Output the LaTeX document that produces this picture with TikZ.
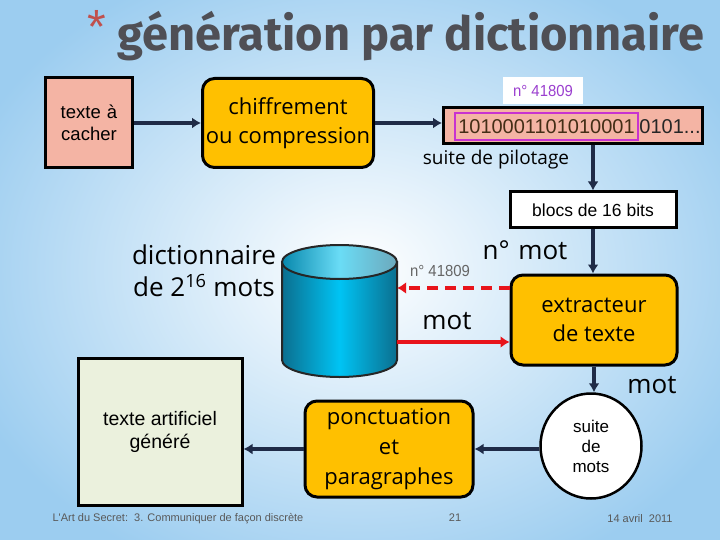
\documentclass[tikz,border=0pt]{standalone}
\usepackage{fontspec}
\setmainfont{Liberation Sans}
\newfontfamily\titlefont{Fira Sans}
\newfontfamily\tahfont{Open Sans}
\newfontfamily\arialfont{Liberation Sans}
\usetikzlibrary{arrows.meta,shapes.geometric,calc}
\definecolor{bgblue}{HTML}{9CCDF0}
\definecolor{pinkbox}{HTML}{F4B4A4}
\definecolor{orangebox}{HTML}{FFC000}
\definecolor{greenbox}{HTML}{EBF1DD}
\definecolor{navy}{HTML}{1F2B47}
\definecolor{redarr}{HTML}{E8141B}
\definecolor{purpletxt}{HTML}{9B3FCF}
\definecolor{magbox}{HTML}{C832D0}
\definecolor{titlegray}{HTML}{4F4F55}
\definecolor{starred}{HTML}{C0504D}
\definecolor{cyldark}{HTML}{0B6F8F}
\definecolor{cylmid}{HTML}{00C4F4}
\definecolor{cyltop}{HTML}{6ADCF6}
\tikzset{
  plainbox/.style={draw=black,line width=3pt,rectangle,inner sep=0pt,align=center},
  roundbox/.style={plainbox,rounded corners=12pt,fill=orangebox},
  flowarrow/.style={draw=navy,line width=4pt,-{Latex[length=9pt,width=11pt]}},
  redarrow/.style={draw=redarr,line width=4pt,-{Latex[length=9pt,width=12pt]}},
  tah/.style={font=\tahfont\fontsize{#1}{#1}\selectfont,inner sep=0pt},
  ari/.style={font=\arialfont\fontsize{#1}{#1}\selectfont,inner sep=0pt},
}
\begin{document}
\begin{tikzpicture}[x=1pt,y=-1pt]
\useasboundingbox (0,0) rectangle (720,540);
\shade[inner color=white,outer color=bgblue] (-60,-60) rectangle (780,600);
% title
\node[font=\titlefont\bfseries\fontsize{47}{47}\selectfont,text=titlegray,inner sep=0pt,anchor=base] (title) at (411,51) {génération par dictionnaire};
\node[font=\arialfont\fontsize{48}{48}\selectfont,text=starred,inner sep=0pt] (star) at (97,27) {*};
% top row
\node[plainbox,fill=pinkbox,minimum width=87pt,minimum height=90pt,ari={18.5},text width=82pt,align=center] (cacher) at (89,123) {texte à\\[4pt]cacher};
\node[roundbox,minimum width=171pt,minimum height=89pt,tah={22},align=center] (chiff) at (288,123) {chiffrement\\[7pt]ou compression};
\node[fill=white,minimum width=80pt,minimum height=27pt,inner sep=0pt,ari={16},text=purpletxt] (num) at (543,91) {\scalebox{0.93}[1]{n° 41809}};
\node[plainbox,fill=pinkbox,minimum width=259pt,minimum height=36pt] (bits) at (573,126) {};
\node[draw=magbox,line width=2.5pt,minimum width=183pt,minimum height=27pt,inner sep=0pt,ari={20},text=black!65!brown] (hl) at (546.5,126.5) {1010001101010001};
\node[anchor=west,ari={20},text=black!85] (rest) at (hl.east) {0101...};
\node[tah={19}] (pilot) at (496,160) {suite de pilotage};
\node[plainbox,fill=white,minimum width=166pt,minimum height=36pt,ari={17.5}] (blocs) at (593,210) {blocs de 16 bits};
\node[tah={26}] (nmot) at (525,250) {n°\,\,mot};
\node[roundbox,minimum width=166pt,minimum height=90pt,tah={22}] (ext) at (594,320) {extracteur\\[7pt]de texte};
% dictionary
\node[tah={26},align=center] (dictlab) at (204,271) {dictionnaire\\[6pt]de 2\textsuperscript{16} mots};
\node[minimum width=115pt,minimum height=132pt,inner sep=0pt] (dict) at (339.5,311) {};
\shade[left color=cyldark,right color=cyldark,middle color=cylmid,draw=black!85,line width=2pt]
  (282,262) -- (282,360) arc[start angle=180,end angle=360,x radius=57.5pt,y radius=17pt] -- (397,262) -- cycle;
\shade[left color=cyldark!70!cylmid,right color=cyldark!60,middle color=cyltop,draw=black!85,line width=2pt]
  (339.5,262) ellipse[x radius=57.5pt,y radius=17pt];
\node[ari={16},text=black!60] (numb) at (440,271) {\scalebox{0.93}[1]{n° 41809}};
\node[tah={26}] (motA) at (447,321) {mot};
\node[tah={26}] (motB) at (652,385) {mot};
% bottom row
\node[draw=black,line width=2.5pt,ellipse,fill=white,minimum width=101pt,minimum height=105pt,inner sep=0pt,ari={17},align=center] (ell) at (591,446) {suite\\[3pt]de\\[3pt]mots};
\node[roundbox,minimum width=168pt,minimum height=96pt,tah={22}] (ponct) at (389,449) {ponctuation\\[8pt]et\\[8pt]paragraphes};
\node[plainbox,fill=greenbox,minimum width=164pt,minimum height=147pt,ari={19.5}] (art) at (160,432) {texte artificiel\\[4pt]généré};
% footer
\node[ari={11},text=black!65] (foot1) at (178,519) {L'Art du Secret:\ \ 3. Communiquer de façon discrète};
\node[ari={11},text=black!65] (foot2) at (455,518) {21};
\node[ari={11},text=black!65] (foot3) at (640,519) {14 avril\ \ 2011};
% connectors
\draw[flowarrow] (cacher.east) -- (cacher.east -| chiff.west);
\draw[flowarrow] (chiff.east) -- (chiff.east -| bits.west);
\draw[flowarrow] (bits.south -| blocs.north) -- (blocs.north);
\draw[flowarrow] (blocs.south) -- (blocs.south |- ext.north);
\draw[flowarrow] (ext.south) -- (ext.south |- ell.north);
\draw[flowarrow] (ell.west |- ponct.east) -- (ponct.east);
\draw[flowarrow] (ponct.west) -- (ponct.west -| art.east);
\coordinate (d1) at ($(ext.west)+(0,-32)$);
\coordinate (d2) at ($(ext.west)+(0,22)$);
\draw[redarrow,dashed,dash pattern=on 11pt off 7pt] (d1) -- (d1 -| dict.east);
\draw[redarrow] (d2 -| dict.east) -- (d2);
\end{tikzpicture}
\end{document}
